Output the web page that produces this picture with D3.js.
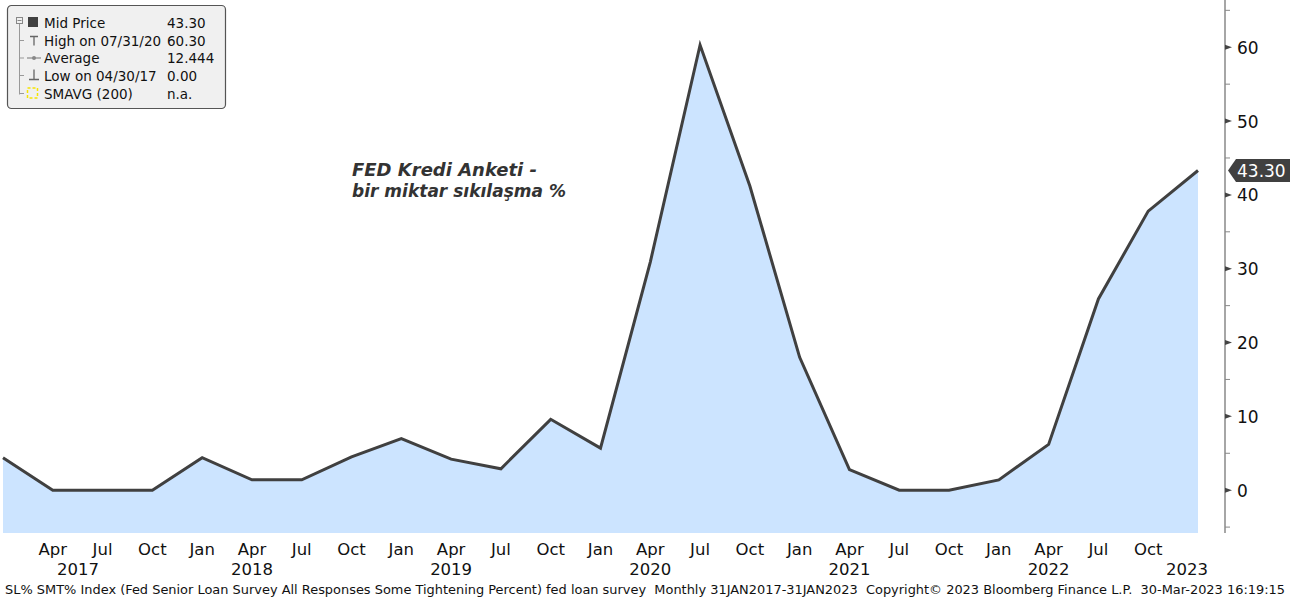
<!DOCTYPE html>
<html><head><meta charset="utf-8">
<script src="https://cdn.jsdelivr.net/npm/d3@7"></script>
<style>html,body{margin:0;padding:0;background:#fff;}svg{display:block;} text{white-space:pre;}</style>
</head><body>
<svg id="c" width="1303" height="598"></svg>
<script>
// ---- data ----
const dates = ["2017-01","2017-04","2017-07","2017-10","2018-01","2018-04","2018-07","2018-10",
  "2019-01","2019-04","2019-07","2019-10","2020-01","2020-04","2020-07","2020-10",
  "2021-01","2021-04","2021-07","2021-10","2022-01","2022-04","2022-07","2022-10","2023-01"];
const values = [4.4,0,0,0,4.4,1.4,1.4,4.5,7.0,4.2,2.9,9.6,5.7,30.9,60.3,41.2,
  18.0,2.8,0,0,1.4,6.2,25.9,37.8,43.3];
const quarterLabels = ["Apr","Jul","Oct","Jan","Apr","Jul","Oct","Jan","Apr","Jul","Oct","Jan",
  "Apr","Jul","Oct","Jan","Apr","Jul","Oct","Jan","Apr","Jul","Oct"];
const quarterDates = dates.slice(1, 24);
const yearLabels = ["2017","2018","2019","2020","2021","2022","2023"];
const yTicks = [0,10,20,30,40,50,60];
const yMinor = [-5,5,15,25,35,45,55,65];
const legendNames = ["Mid Price","High on 07/31/20","Average","Low on 04/30/17","SMAVG (200)"];
const legendValues = ["43.30","60.30","12.444","0.00","n.a."];
const lastValue = "43.30";
const annotation = ["FED Kredi Anketi -","bir miktar sıkılaşma %"];
const annotationWidths = [185, 214];
const footer = "SL% SMT% Index (Fed Senior Loan Survey All Responses Some Tightening Percent) fed loan survey  Monthly 31JAN2017-31JAN2023  Copyright\u00A9 2023 Bloomberg Finance L.P.  30-Mar-2023 16:19:15";

// ---- helpers ----
const mIdx = s => { const [y,m] = s.split("-").map(Number); return (y-2017)*12 + (m-1); };
const svg = d3.select("#c");
const FONT = "'DejaVu Sans', sans-serif";

const x = d3.scaleLinear().domain([0, 72]).range([3, 1198]);
const y = d3.scaleLinear().domain([-5.8, 66.4]).range([533, 0]);

const data = dates.map((d,i) => ({m: mIdx(d), v: values[i]}));

// area
svg.append("path").datum(data)
  .attr("d", d3.area().x(d => x(d.m)).y0(y(-5.8)).y1(d => y(d.v)))
  .attr("fill", "#cce4ff");
// line
svg.append("path").datum(data)
  .attr("d", d3.line().x(d => x(d.m)).y(d => y(d.v)))
  .attr("fill", "none").attr("stroke", "#404040").attr("stroke-width", 3)
  .attr("stroke-linejoin", "miter");

// y axis
const ax = 1225;
svg.append("line").attr("x1", ax).attr("x2", ax).attr("y1", 0).attr("y2", y(-5.8))
  .attr("stroke", "#888").attr("stroke-width", 1.5);
svg.selectAll(".minor").data(yMinor).enter().append("line")
  .attr("x1", ax).attr("x2", ax + 5).attr("y1", d => y(d)).attr("y2", d => y(d))
  .attr("stroke", "#888").attr("stroke-width", 1);
svg.selectAll(".tri").data(yTicks).enter().append("path")
  .attr("d", d => `M${ax},${y(d)-2.5}L${ax+7},${y(d)}L${ax},${y(d)+2.5}Z`)
  .attr("fill", "#444");
svg.selectAll(".ylab").data(yTicks).enter().append("text")
  .attr("x", ax + 12).attr("y", d => y(d) + 6.5)
  .attr("font-family", FONT).attr("font-size", 17).attr("fill", "#111")
  .text(d => d);

// last value badge
const yl = y(values[values.length-1]);
svg.append("path")
  .attr("d", `M${ax+3},${yl}L${ax+11},${yl-11.5}L1290,${yl-11.5}L1290,${yl+11.5}L${ax+11},${yl+11.5}Z`)
  .attr("fill", "#404040");
svg.append("text").attr("x", ax + 12).attr("y", yl + 6.5)
  .attr("font-family", FONT).attr("font-size", 17).attr("fill", "#fff").text(lastValue);

// x quarter labels
svg.selectAll(".ql").data(quarterDates).enter().append("text")
  .attr("x", d => x(mIdx(d))).attr("y", 555)
  .attr("text-anchor", "middle").attr("font-family", FONT).attr("font-size", 16.5)
  .attr("fill", "#111").text((d,i) => quarterLabels[i]);

// year labels (centered on April of each year, clamped to the plot)
svg.selectAll(".yl").data(yearLabels).enter().append("text")
  .attr("y", 575).attr("text-anchor", "middle").attr("font-family", FONT)
  .attr("font-size", 16.5).attr("fill", "#111").text(d => d)
  .each(function(d) {
    const w = this.getComputedTextLength();
    let cx = x(mIdx(d + "-04"));
    cx = Math.max(cx, x(0) + 54 + w/2);
    cx = Math.min(cx, 1208 - w/2);
    d3.select(this).attr("x", cx);
  });

// footer
svg.append("text").attr("x", 5).attr("y", 594)
  .attr("font-family", FONT).attr("font-size", 12.5).attr("fill", "#111")
  .attr("textLength", 1280).attr("lengthAdjust", "spacingAndGlyphs")
  .text(footer);

// annotation
annotation.forEach((t,i) => svg.append("text")
  .attr("x", 352).attr("y", 176 + i*20.5)
  .attr("font-family", FONT).attr("font-size", 17)
  .attr("font-weight", "bold").attr("font-style", "italic").attr("fill", "#333")
  .attr("textLength", annotationWidths[i]).attr("lengthAdjust", "spacingAndGlyphs")
  .text(t));

// legend
const lg = svg.append("g");
lg.append("rect").attr("x", 7.5).attr("y", 5.5).attr("width", 218).attr("height", 103)
  .attr("rx", 4).attr("fill", "#f0f0f0").attr("stroke", "#555").attr("stroke-width", 1.2);
const rowsY = [22.5, 40.5, 58, 75.5, 93.5];
// tree
lg.append("rect").attr("x", 16.5).attr("y", 17.5).attr("width", 6).attr("height", 6)
  .attr("fill", "none").attr("stroke", "#888");
lg.append("line").attr("x1", 17.5).attr("x2", 21.5).attr("y1", 20.5).attr("y2", 20.5).attr("stroke", "#888");
lg.append("line").attr("x1", 19.5).attr("x2", 19.5).attr("y1", 24).attr("y2", rowsY[4]+1).attr("stroke", "#999");
rowsY.slice(1).forEach(r => lg.append("line").attr("x1", 19.5).attr("x2", 24).attr("y1", r).attr("y2", r).attr("stroke", "#999"));
// icons
lg.append("rect").attr("x", 28).attr("y", 17).attr("width", 10).attr("height", 10).attr("fill", "#404040");
lg.append("path").attr("d", `M30,${rowsY[1]-4}H38M34,${rowsY[1]-4}V${rowsY[1]+5}`).attr("stroke", "#666").attr("stroke-width", 1.3).attr("fill","none");
lg.append("path").attr("d", `M27,${rowsY[2]}H41`).attr("stroke", "#888").attr("stroke-width", 1.2);
lg.append("circle").attr("cx", 34).attr("cy", rowsY[2]).attr("r", 2).attr("fill", "#888");
lg.append("path").attr("d", `M34,${rowsY[3]-6}V${rowsY[3]+4}M29,${rowsY[3]+4}H39`).attr("stroke", "#666").attr("stroke-width", 1.3).attr("fill","none");
lg.append("rect").attr("x", 27.5).attr("y", rowsY[4]-5.5).attr("width", 10).attr("height", 10)
  .attr("fill", "none").attr("stroke", "#f5e400").attr("stroke-width", 1.5).attr("stroke-dasharray", "3,2");
lg.selectAll(".ln").data(legendNames).enter().append("text")
  .attr("x", 44).attr("y", (d,i) => rowsY[i] + 5)
  .attr("font-family", FONT).attr("font-size", 13.5).attr("fill", "#111").text(d => d);
lg.selectAll(".lv").data(legendValues).enter().append("text")
  .attr("x", 167).attr("y", (d,i) => rowsY[i] + 5)
  .attr("font-family", FONT).attr("font-size", 13.5).attr("fill", "#111").text(d => d);
</script>
</body></html>
